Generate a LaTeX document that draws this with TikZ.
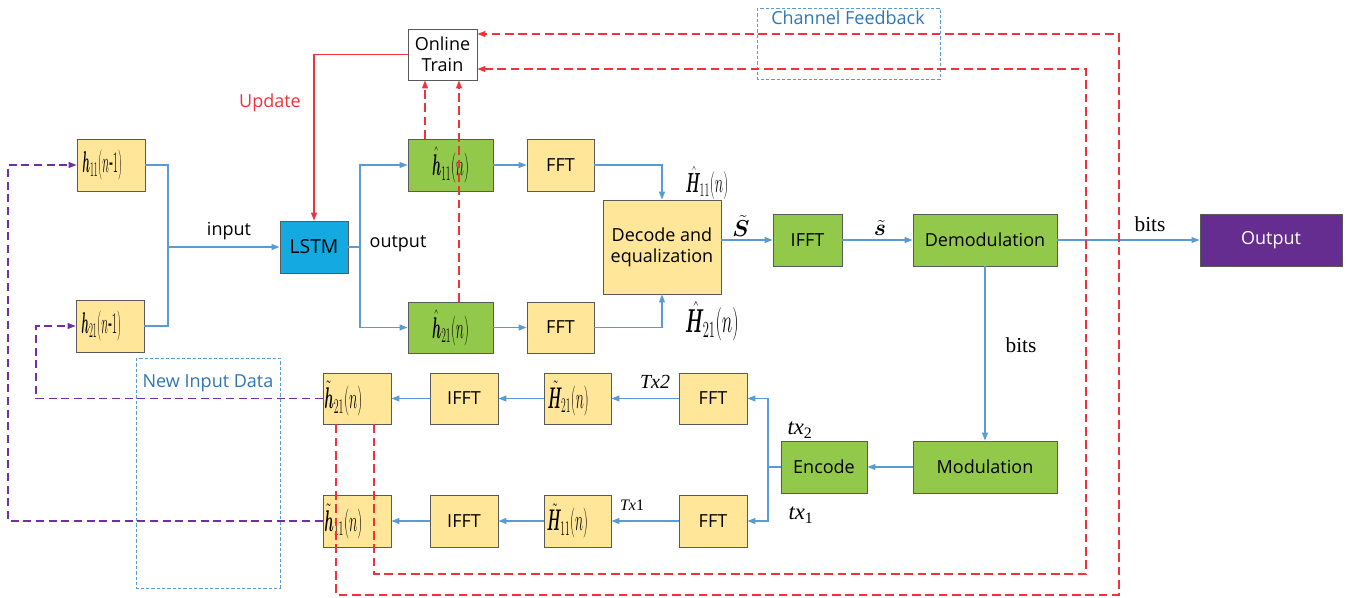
\documentclass[tikz,border=0pt]{standalone}
\usepackage{fontspec}
\setmainfont{Open Sans}
\newfontfamily\tms{Liberation Serif}
\usepackage{bm}
\usepackage{graphicx}
\usetikzlibrary{arrows.meta}

\definecolor{ylw}{HTML}{FFE699}
\definecolor{grn}{HTML}{92C94A}
\definecolor{lstmblue}{HTML}{14A9E1}
\definecolor{outpurple}{HTML}{662D91}
\definecolor{bord}{HTML}{5A5A5A}
\definecolor{lineblue}{HTML}{5B9BD5}
\definecolor{fbred}{HTML}{F0323C}
\definecolor{dpurple}{HTML}{7030A0}
\definecolor{txtblue}{HTML}{2E75B6}

% tall, condensed formula label: #1 horizontal scale, #2 vertical scale, #3 size, #4 formula
\newcommand\mlab[4]{\scalebox{#1}[#2]{\fontsize{#3}{#3}\selectfont$#4$}}
% formula set flush left inside a box of the given width
\newcommand\leftlab[4]{\makebox[#1][l]{\hspace{#2}\mlab{#3}{1.3}{18}{#4}}}
\newcommand\sansfs{\fontsize{13.5}{16}\selectfont}

\begin{document}
\begin{tikzpicture}[x=0.75pt,y=-0.75pt,
  box/.style={draw=bord, line width=0.7pt, inner sep=1pt, align=center,
    font=\sansfs, minimum height=39pt},
  yb/.style={box, fill=ylw},
  gb/.style={box, fill=grn},
  wb/.style={box, fill=white},
  lb/.style={box, fill=lstmblue, font=\fontsize{14.5}{16}\selectfont},
  pb/.style={box, fill=outpurple, text=white},
  tip/.style={-{Triangle[length=6pt,width=4.5pt]}},
  bl/.style={draw=lineblue, line width=0.9pt},
  rdash/.style={draw=fbred, line width=0.9pt, dash pattern=on 6.5pt off 3.5pt},
  pdash/.style={draw=dpurple, line width=0.9pt, dash pattern=on 6pt off 3.5pt},
  bbox/.style={draw=lineblue, line width=0.7pt, dash pattern=on 2.5pt off 1.5pt},
  plain/.style={font=\sansfs, inner sep=1pt}
]
\useasboundingbox (0,0) rectangle (1351,597);

% dashed grouping boxes
\draw[bbox] (757,8) rectangle (940,79);
\node[plain, text=txtblue, font=\fontsize{13.5}{16}\selectfont] (cfb) at (848,18) {Channel Feedback};
\draw[bbox] (136,358) rectangle (280,588);
\node[plain, text=txtblue, font=\fontsize{13.5}{16}\selectfont] (nid) at (208,383) {New Input Data};

% past channel estimates
\node[yb, minimum width=51pt] (h11m1) at (111,165) {\leftlab{49pt}{3pt}{0.5}{\bm{h}_{11}(n\mbox{-}1)}};
\node[yb, minimum width=51pt] (h21m1) at (110,326) {\leftlab{49pt}{3pt}{0.5}{\bm{h}_{21}(n\mbox{-}1)}};

% predictor and training
\node[lb, minimum width=51pt] (lstm) at (314,247) {LSTM};
\node[wb, minimum width=51.75pt, minimum height=38.25pt] (otrain) at (442.5,54.5) {Online\\Train};

% predicted channels
\node[gb, minimum width=63.75pt] (h11hat) at (450.5,165) {\mlab{0.6}{1.3}{18}{\hat{\bm{h}}_{11}(n)}};
\node[yb, minimum width=50.25pt] (fft1) at (560.5,165) {FFT};
\node[gb, minimum width=63.75pt, minimum height=38.25pt] (h21hat) at (450.5,327.5) {\mlab{0.6}{1.3}{18}{\hat{\bm{h}}_{21}(n)}};
\node[yb, minimum width=50.25pt, minimum height=38.25pt] (fft2) at (560.5,327.5) {FFT};

% receiver chain
\node[yb, minimum width=88.5pt, minimum height=70.5pt, font=\fontsize{13.5}{15.5}\selectfont] (dec) at (662,247) {Decode and\\equalization};
\node[gb, minimum width=51.75pt] (ifftg) at (807.5,240) {IFFT};
\node[gb, minimum width=108pt] (demod) at (985,240) {Demodulation};
\node[pb, minimum width=106.5pt] (out) at (1271,240) {Output};

% transmitter chain
\node[gb, minimum width=108pt] (modul) at (985,467) {Modulation};
\node[gb, minimum width=64.5pt] (enc) at (824,467) {Encode};
\node[yb, minimum width=51pt, minimum height=38.25pt] (fftA) at (713,398.5) {FFT};
\node[yb, minimum width=51pt, minimum height=39pt] (fftB) at (713,521) {FFT};
\node[yb, minimum width=50.25pt, minimum height=38.25pt] (Ht21) at (577.5,398.5) {\leftlab{48pt}{1.5pt}{0.6}{\tilde{\bm{H}}_{21}(n)}};
\node[yb, minimum width=50.25pt, minimum height=39pt] (Ht11) at (577.5,521) {\leftlab{48pt}{1pt}{0.6}{\tilde{\bm{H}}_{11}(n)}};
\node[yb, minimum width=51pt, minimum height=38.25pt] (ifftA) at (464,398.5) {IFFT};
\node[yb, minimum width=51pt, minimum height=39pt] (ifftB) at (464,521) {IFFT};
\node[yb, minimum width=51pt, minimum height=38.25pt] (ht21) at (357,398.5) {\leftlab{49pt}{0pt}{0.62}{\tilde{\bm{h}}_{21}(n)}};
\node[yb, minimum width=51pt, minimum height=39pt] (ht11) at (357,521) {\leftlab{49pt}{0pt}{0.62}{\tilde{\bm{h}}_{11}(n)}};

% junction points
\coordinate (jin) at (168,247);
\coordinate (jout) at (360,247);
\coordinate (jenc) at (768,467);

% blue signal connectors
\draw[bl] (h11m1.east) -| (jin);
\draw[bl] (h21m1.east) -| (jin);
\draw[bl,tip] (jin) -- (lstm.west);
\draw[bl] (lstm.east) -- (jout);
\draw[bl,tip] (jout) |- (h11hat.west);
\draw[bl,tip] (jout) |- (h21hat.west);
\draw[bl,tip] (h11hat.east) -- (fft1.west);
\draw[bl,tip] (h21hat.east) -- (fft2.west);
\draw[bl,tip] (fft1.east) -| (dec.north);
\draw[bl,tip] (fft2.east) -| (dec.south);
\draw[bl,tip] (dec.east |- ifftg.west) -- (ifftg.west);
\draw[bl,tip] (ifftg.east) -- (demod.west);
\draw[bl,tip] (demod.east) -- (out.west);
\draw[bl,tip] (demod.south) -- (modul.north);
\draw[bl,tip] (modul.west) -- (enc.east);
\draw[bl] (enc.west) -- (jenc);
\draw[bl,tip] (jenc) |- (fftA.east);
\draw[bl,tip] (jenc) |- (fftB.east);
\draw[bl,tip] (fftA.west) -- (Ht21.east);
\draw[bl,tip] (fftB.west) -- (Ht11.east);
\draw[bl,tip] (Ht21.west) -- (ifftA.east);
\draw[bl,tip] (Ht11.west) -- (ifftB.east);
\draw[bl,tip] (ifftA.west) -- (ht21.east);
\draw[bl,tip] (ifftB.west) -- (ht11.east);

% new input data fed back to the predictor
\coordinate (pa) at (36,398.5);
\coordinate (pb) at (8,521);
\draw[pdash,tip] (ht21.west) -- (pa) |- (h21m1.west);
\draw[pdash,tip] (ht11.west) -- (pb) |- (h11m1.west);

% model update
\draw[draw=fbred, line width=0.9pt, tip] (otrain.west) -| (lstm.north);
\node[plain, text=fbred] (upd) at (270,103) {Update};

% training inputs
\coordinate (xa) at (425,0);
\coordinate (xb) at (459,0);
\draw[rdash,tip] (h11hat.north -| xa) -- (otrain.south -| xa);
\draw[rdash,tip] (h21hat.north -| xb) -- (otrain.south -| xb);

% channel feedback loops
\coordinate (xc) at (336,0);
\coordinate (xd) at (374,0);
\coordinate (ca) at (336,595);
\coordinate (cb) at (1119,595);
\coordinate (cc) at (1119,34);
\coordinate (da) at (374,574);
\coordinate (db) at (1086,574);
\coordinate (dc) at (1086,69);
\draw[rdash,tip] (ht21.south -| xc) -- (ca) -- (cb) -- (cc) -- (otrain.east |- cc);
\draw[rdash,tip] (ht21.south -| xd) -- (da) -- (db) -- (dc) -- (otrain.east |- dc);

% connector labels
\node[plain] (lin) at (229,231) {input};
\node[plain] (lout) at (398,244) {output};
\node[inner sep=0pt] (lH11) at (707,183) {\mlab{0.62}{1.2}{17}{\hat{\bm{H}}_{11}(n)}};
\node[inner sep=0pt] (lH21) at (712,321) {\mlab{0.65}{1.2}{20}{\hat{\bm{H}}_{21}(n)}};
\node[inner sep=0pt] (lS) at (741,226) {\fontsize{19}{22}\selectfont$\tilde{\bm{S}}$};
\node[inner sep=0pt] (ls) at (880,228) {\fontsize{19}{22}\selectfont$\tilde{\bm{s}}$};
\node[inner sep=0pt] (lbits1) at (1150,224) {\tms\fontsize{16}{18}\selectfont bits};
\node[inner sep=0pt] (lbits2) at (1021,345) {\tms\fontsize{16}{18}\selectfont bits};
\node[inner sep=0pt] (ltx2) at (655,382) {\tms\itshape\fontsize{15}{17}\selectfont Tx2};
\node[inner sep=0pt] (ltx1) at (632,505) {\tms\itshape\fontsize{12}{14}\selectfont Tx\upshape 1};
\node[inner sep=0pt] (ltxa) at (800,430) {\tms\fontsize{17}{19}\selectfont\itshape tx\textsubscript{\upshape 2}};
\node[inner sep=0pt] (ltxb) at (801,515) {\tms\fontsize{17}{19}\selectfont\itshape tx\textsubscript{\upshape 1}};
\end{tikzpicture}
\end{document}
